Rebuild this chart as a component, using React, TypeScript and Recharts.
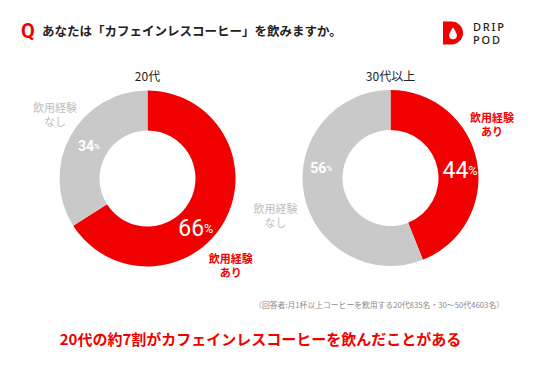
import { PieChart, Pie, Cell } from 'recharts';

const categories = ['飲用経験あり', '飲用経験なし'];
const nameLines = [
  ['飲用経験', 'あり'],
  ['飲用経験', 'なし'],
];
const groupTitles = ['20代', '30代以上'];
const values20s = [66, 34];
const values30plus = [44, 56];

const RED = '#f00000';
const GRAY = '#c9c9c9';
const COLORS = [RED, GRAY];
const JP = "'Noto Sans CJK JP', 'Noto Sans', sans-serif";
const NUM = "'Liberation Sans Narrow', 'Roboto', 'Noto Sans', sans-serif";
const RADIAN = Math.PI / 180;

// where the designer put the labels (angle in degrees, radius in px), per group / slice
const LABEL_SPOTS = [
  [
    { pct: [-45.6, 69], pctSize: 23, name: [-46, 120] },
    { pct: [151, 67], pctSize: 14, name: [145, 113] },
  ],
  [
    { pct: [6.6, 70], pctSize: 23, name: [28, 115] },
    { pct: [172, 70], pctSize: 14, name: [198, 121] },
  ],
];

const PIES = [
  { title: groupTitles[0], values: values20s, cx: 147.5, cy: 178.5 },
  { title: groupTitles[1], values: values30plus, cx: 390.5, cy: 178 },
];

function polar(cx: number, cy: number, angle: number, r: number) {
  return { x: cx + r * Math.cos(-angle * RADIAN), y: cy + r * Math.sin(-angle * RADIAN) };
}

function makeLabel(group: number) {
  return (props: any) => {
    const { cx, cy, value, index } = props;
    const spot = LABEL_SPOTS[group][index];
    const p = polar(cx, cy, spot.pct[0], spot.pct[1]);
    const n = polar(cx, cy, spot.name[0], spot.name[1]);
    const isRed = index === 0;
    return (
      <g>
        <text
          x={p.x}
          y={p.y}
          textAnchor="middle"
          dominantBaseline="central"
          fill="#fff"
          fontFamily={NUM}
          fontWeight={isRed ? 400 : 700}
        >
          <tspan fontSize={spot.pctSize}>{value}</tspan>
          <tspan fontSize={spot.pctSize * 0.55}>%</tspan>
        </text>
        <text
          x={n.x}
          y={n.y - 7}
          textAnchor="middle"
          dominantBaseline="central"
          fill={isRed ? RED : '#bdbdbd'}
          fontFamily={JP}
          fontSize={11}
          fontWeight={isRed ? 700 : 400}
        >
          <tspan x={n.x}>{nameLines[index][0]}</tspan>
          <tspan x={n.x} dy={14}>{nameLines[index][1]}</tspan>
        </text>
      </g>
    );
  };
}

export default function App() {
  return (
    <div
      style={{
        position: 'absolute',
        left: 0,
        top: 0,
        width: 536,
        height: 366,
        background: '#fff',
        fontFamily: JP,
      }}
    >
      {/* question */}
      <div style={{ position: 'absolute', left: 21, top: 20, color: RED, fontFamily: NUM, fontWeight: 700, fontSize: 20, lineHeight: '22px' }}>
        Q
      </div>
      <div style={{ position: 'absolute', left: 42, top: 22, fontSize: 12.5, fontWeight: 700, color: '#222', lineHeight: '18px', whiteSpace: 'nowrap' }}>
        あなたは「カフェインレスコーヒー」を飲みますか。
      </div>

      {/* logo */}
      <svg style={{ position: 'absolute', left: 443, top: 21 }} width={21} height={24} viewBox="0 0 22 24">
        <path d="M0 0 H9 A12 12 0 0 1 9 24 H0 Z" fill={RED} />
        <path d="M10.5 6 C8 10 6.5 12.5 6.5 14.5 A4 4 0 0 0 14.5 14.5 C14.5 12.5 13 10 10.5 6 Z" fill="#fff" />
      </svg>
      <div style={{ position: 'absolute', left: 473, top: 20, fontFamily: "'Noto Sans', sans-serif", fontSize: 11, fontWeight: 500, letterSpacing: 1.8, lineHeight: '13px', color: '#222' }}>
        DRIP
        <br />
        POD
      </div>

      <PieChart
        width={536}
        height={366}
        margin={{ top: 0, right: 0, bottom: 0, left: 0 }}
        style={{ position: 'absolute', left: 0, top: 0 }}
      >
        {PIES.map((pie, g) => (
          <text
            key={`t${g}`}
            x={pie.cx}
            y={75}
            textAnchor="middle"
            dominantBaseline="central"
            fontFamily={JP}
            fontSize={12}
            fill="#222"
          >
            {pie.title}
          </text>
        ))}
        {PIES.map((pie, g) => (
          <Pie
            key={pie.title}
            data={categories.map((c, i) => ({ name: c, value: pie.values[i] }))}
            dataKey="value"
            nameKey="name"
            cx={pie.cx}
            cy={pie.cy}
            innerRadius={48}
            outerRadius={88}
            startAngle={90}
            endAngle={-270}
            stroke="none"
            labelLine={false}
            label={makeLabel(g)}
            isAnimationActive={false}
          >
            {categories.map((c, i) => (
              <Cell key={c} fill={COLORS[i]} />
            ))}
          </Pie>
        ))}
      </PieChart>

      {/* footnote */}
      <div style={{ position: 'absolute', right: 32, top: 299, fontSize: 7.8, color: '#8a8a8a', whiteSpace: 'nowrap', lineHeight: '11px' }}>
        （回答者:月1杯以上コーヒーを飲用する20代835名・30～50代4603名）
      </div>

      {/* headline */}
      <div style={{ position: 'absolute', left: 0, width: 521, top: 328, textAlign: 'center', fontSize: 15, fontWeight: 700, color: RED, whiteSpace: 'nowrap', lineHeight: '22px' }}>
        20代の約7割がカフェインレスコーヒーを飲んだことがある
      </div>
    </div>
  );
}
